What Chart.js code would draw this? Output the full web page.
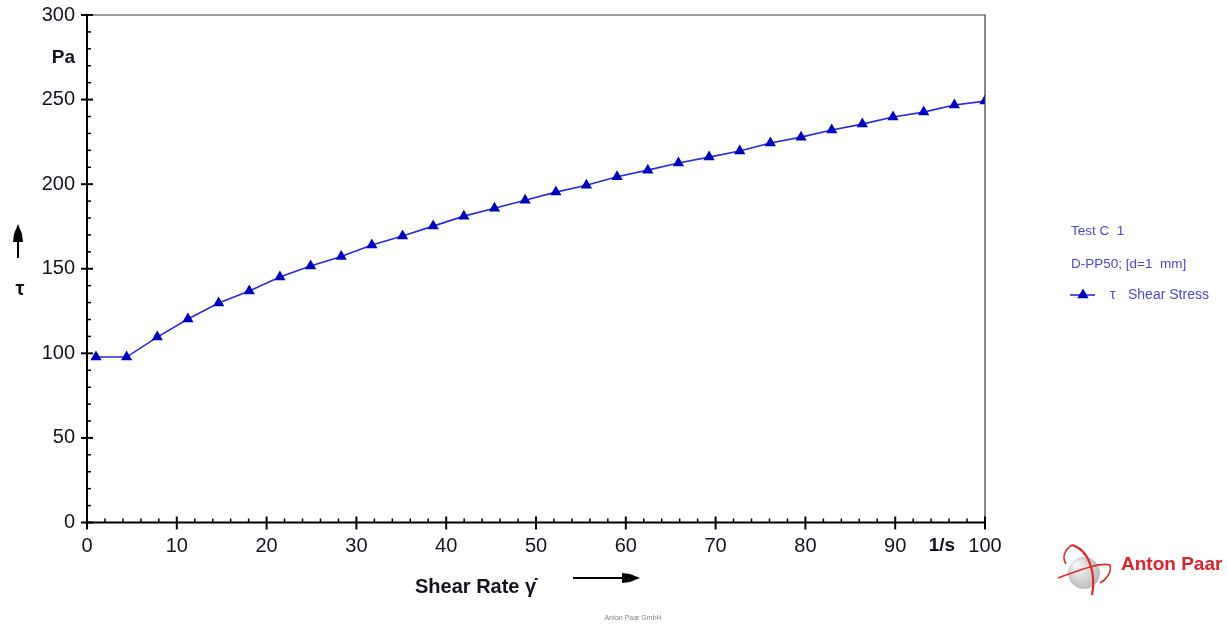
<!DOCTYPE html>
<html>
<head>
<meta charset="utf-8">
<script src="https://cdn.jsdelivr.net/npm/chart.js@4.4.1/dist/chart.umd.min.js"></script>
<style>
  html, body { margin: 0; padding: 0; background: #fff; }
  #wrap { width: 1227px; height: 624px; position: relative; }
</style>
</head>
<body>
<div id="wrap"><canvas id="c" width="1227" height="624"></canvas></div>
<script>
// ---- data ----
const shearRate = [1, 4.41, 7.83, 11.24, 14.66, 18.07, 21.48, 24.9, 28.31, 31.72,
  35.14, 38.55, 41.97, 45.38, 48.79, 52.21, 55.62, 59.03, 62.45, 65.86,
  69.28, 72.69, 76.1, 79.52, 82.93, 86.34, 89.76, 93.17, 96.59, 100];
const shearStress = [97.8, 97.8, 109.6, 120.3, 129.7, 136.8, 145.1, 151.6, 157.2, 164.0,
  169.3, 175.2, 181.1, 185.8, 190.5, 195.3, 199.4, 204.4, 208.3, 212.5,
  216.0, 219.6, 224.3, 227.8, 232.0, 235.5, 239.7, 242.6, 246.8, 249.1];
const xTicks = [0, 10, 20, 30, 40, 50, 60, 70, 80, 90, 100];
const yTicks = [0, 50, 100, 150, 200, 250, 300];
const xUnitLabel = '1/s';
const yUnitLabel = 'Pa';
const xTitle = 'Shear Rate \u03B3\u0307';
const yTitle = '\u03C4';
const legendLines = ['Test C  1', 'D-PP50; [d=1  mm]'];
const seriesSymbol = '\u03C4';
const seriesName = 'Shear Stress';
const logoText = 'Anton Paar';
const footerText = 'Anton Paar GmbH';

const FONT = '"Liberation Sans", Arial, sans-serif';
const TEXT = '#14141f';
const LINE_BLUE = '#2a2ae0';
const MARK_BLUE = '#0000c0';
const LEG_BLUE = '#4a4ad6';

const points = shearRate.map((x, i) => ({ x: x, y: shearStress[i] }));

function tri(ctx, x, y, r) {
  ctx.beginPath();
  ctx.moveTo(x, y - r);
  ctx.lineTo(x + r * 0.866, y + r * 0.5);
  ctx.lineTo(x - r * 0.866, y + r * 0.5);
  ctx.closePath();
  ctx.fill();
}

const decor = {
  id: 'decor',
  afterDraw(chart) {
    const ctx = chart.ctx;
    const xs = chart.scales.x, ys = chart.scales.y;
    const L = chart.chartArea.left, R = chart.chartArea.right;
    const T = chart.chartArea.top, B = chart.chartArea.bottom;
    ctx.save();
    // frame top/right
    ctx.strokeStyle = '#3a3a3a';
    ctx.lineWidth = 1.2;
    ctx.beginPath();
    ctx.moveTo(L, T); ctx.lineTo(R, T); ctx.lineTo(R, B);
    ctx.stroke();
    // axes
    ctx.strokeStyle = '#000';
    ctx.lineWidth = 2;
    ctx.beginPath();
    ctx.moveTo(L, T); ctx.lineTo(L, B + 1);
    ctx.moveTo(L - 1, B); ctx.lineTo(R, B);
    ctx.stroke();
    // y ticks
    for (let v = 0; v <= 300; v += 10) {
      const py = ys.getPixelForValue(v);
      ctx.beginPath();
      if (v % 50 === 0) { ctx.lineWidth = 2; ctx.moveTo(L - 6, py); ctx.lineTo(L + 6, py); }
      else { ctx.lineWidth = 1.5; ctx.moveTo(L, py); ctx.lineTo(L + 4, py); }
      ctx.stroke();
    }
    // x ticks
    for (let v = 0; v <= 100; v += 2) {
      const px = xs.getPixelForValue(v);
      ctx.beginPath();
      if (v % 10 === 0) { ctx.lineWidth = 2; ctx.moveTo(px, B - 6); ctx.lineTo(px, B + 7); }
      else { ctx.lineWidth = 1.5; ctx.moveTo(px, B); ctx.lineTo(px, B - 4); }
      ctx.stroke();
    }
    // unit labels
    ctx.fillStyle = TEXT;
    ctx.font = 'bold 19px ' + FONT;
    ctx.textAlign = 'right'; ctx.textBaseline = 'middle';
    ctx.fillText(yUnitLabel, L - 12, ys.getPixelForValue(275));
    ctx.textAlign = 'center';
    ctx.fillText(xUnitLabel, xs.getPixelForValue(95.2), B + 23);
    // x title
    ctx.font = 'bold 20px ' + FONT;
    ctx.textAlign = 'left'; ctx.textBaseline = 'alphabetic';
    ctx.fillText(xTitle, 415, 593);
    // x arrow
    ctx.strokeStyle = '#000'; ctx.lineWidth = 2;
    ctx.beginPath(); ctx.moveTo(573, 578); ctx.lineTo(628, 578); ctx.stroke();
    ctx.fillStyle = '#000';
    ctx.beginPath();
    ctx.moveTo(622, 573); ctx.lineTo(630, 574); ctx.lineTo(640, 578);
    ctx.lineTo(630, 582); ctx.lineTo(622, 583); ctx.closePath(); ctx.fill();
    // y title + arrow
    ctx.fillStyle = TEXT;
    ctx.textAlign = 'center'; ctx.textBaseline = 'middle';
    ctx.font = 'bold 20px ' + FONT;
    ctx.fillText(yTitle, 20, 289);
    ctx.strokeStyle = '#000'; ctx.lineWidth = 2;
    ctx.beginPath(); ctx.moveTo(18, 240); ctx.lineTo(18, 258); ctx.stroke();
    ctx.fillStyle = '#000';
    ctx.beginPath();
    ctx.moveTo(18, 224); ctx.lineTo(14, 234); ctx.lineTo(13, 242);
    ctx.lineTo(23, 242); ctx.lineTo(22, 234); ctx.closePath(); ctx.fill();
    // legend
    ctx.fillStyle = LEG_BLUE;
    ctx.font = '13.5px ' + FONT;
    ctx.textAlign = 'left'; ctx.textBaseline = 'middle';
    ctx.fillText(legendLines[0], 1071, 231);
    ctx.fillText(legendLines[1], 1071, 264);
    ctx.strokeStyle = LINE_BLUE; ctx.lineWidth = 1.6;
    ctx.beginPath(); ctx.moveTo(1070, 295); ctx.lineTo(1095, 295); ctx.stroke();
    ctx.fillStyle = MARK_BLUE; tri(ctx, 1083, 295, 6.5);
    ctx.fillStyle = LEG_BLUE;
    ctx.font = '14px ' + FONT;
    ctx.fillText(seriesSymbol, 1110, 295);
    ctx.fillText(seriesName, 1128, 295);
    // logo
    const g = ctx.createRadialGradient(1076, 565, 2, 1083, 573, 18);
    g.addColorStop(0, '#f6f6f6'); g.addColorStop(1, '#b8b8b8');
    ctx.fillStyle = g;
    ctx.beginPath(); ctx.arc(1084, 573, 16, 0, Math.PI * 2); ctx.fill();
    ctx.strokeStyle = '#e02a2a'; ctx.lineWidth = 2.2;
    ctx.beginPath();
    ctx.moveTo(1072, 545);
    ctx.bezierCurveTo(1090, 550, 1096, 575, 1092, 595);
    ctx.stroke();
    ctx.lineWidth = 1.6;
    ctx.beginPath();
    ctx.moveTo(1072, 545);
    ctx.bezierCurveTo(1064, 550, 1062, 558, 1066, 564);
    ctx.stroke();
    ctx.beginPath();
    ctx.moveTo(1058, 578);
    ctx.bezierCurveTo(1080, 570, 1100, 562, 1110, 565);
    ctx.bezierCurveTo(1112, 572, 1106, 580, 1100, 583);
    ctx.stroke();
    ctx.fillStyle = '#e0202a';
    ctx.font = 'bold 19px ' + FONT;
    ctx.textAlign = 'left'; ctx.textBaseline = 'middle';
    ctx.fillText(logoText, 1121, 565);
    // footer
    ctx.fillStyle = '#888';
    ctx.font = '7px ' + FONT;
    ctx.textAlign = 'center';
    ctx.fillText(footerText, 633, 618);
    ctx.restore();
  }
};

new Chart(document.getElementById('c'), {
  type: 'line',
  data: {
    datasets: [{
      label: seriesName,
      data: points,
      borderColor: LINE_BLUE,
      borderWidth: 1.6,
      backgroundColor: MARK_BLUE,
      pointBackgroundColor: MARK_BLUE,
      pointBorderColor: MARK_BLUE,
      pointBorderWidth: 0,
      pointStyle: 'triangle',
      pointRadius: 6.5,
      tension: 0,
      fill: false
    }]
  },
  options: {
    responsive: false,
    animation: false,
    events: [],
    layout: { padding: { left: 0, top: 15, right: 242, bottom: 0 } },
    plugins: { legend: { display: false }, tooltip: { enabled: false } },
    scales: {
      x: {
        type: 'linear', min: 0, max: 100,
        afterBuildTicks: s => { s.ticks = xTicks.map(v => ({ value: v })); },
        afterFit: s => { s.height = 101.5; s.paddingLeft = 0; s.paddingRight = 0; },
        grid: { display: false, drawTicks: false }, border: { display: false },
        ticks: { color: TEXT, font: { family: FONT, size: 20 }, padding: 12, maxRotation: 0, autoSkip: false }
      },
      y: {
        type: 'linear', min: 0, max: 300,
        afterBuildTicks: s => { s.ticks = yTicks.map(v => ({ value: v })); },
        afterFit: s => { s.width = 87; s.paddingTop = 0; s.paddingBottom = 0; },
        grid: { display: false, drawTicks: false }, border: { display: false },
        ticks: { color: TEXT, font: { family: FONT, size: 20 }, padding: 12, autoSkip: false }
      }
    }
  },
  plugins: [decor]
});
</script>
</body>
</html>
